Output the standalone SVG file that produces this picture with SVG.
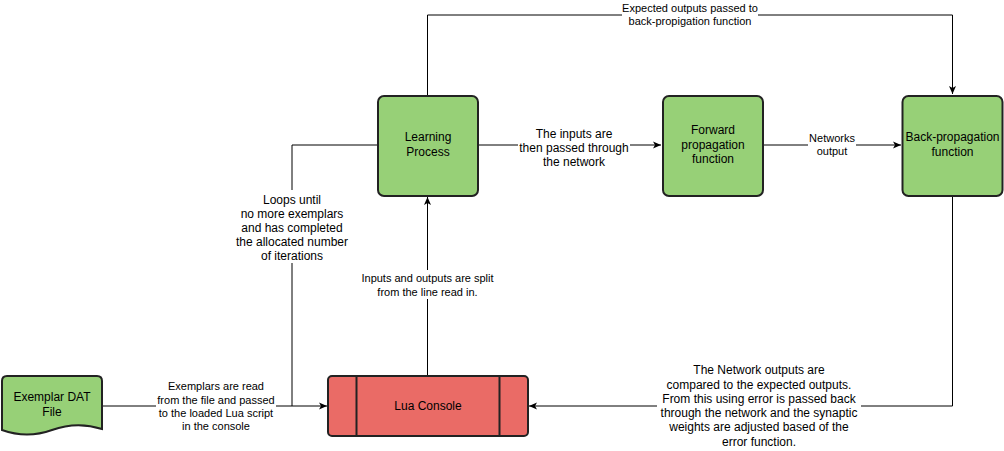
<svg xmlns="http://www.w3.org/2000/svg" width="1004" height="451" viewBox="0 0 1004 451">
  <style>
    .node-g { fill: #97D077; stroke: #222; stroke-width: 2; }
    .node-r { fill: #EA6B66; stroke: #222; stroke-width: 2; }
    .edge { fill: none; stroke: #000; stroke-width: 1; }
    .t12 { font-family: "Liberation Sans", Arial, sans-serif; font-size: 12px; fill: #000; text-anchor: middle; }
    .t11 { font-family: "Liberation Sans", Arial, sans-serif; font-size: 11px; fill: #000; text-anchor: middle; }
    .lbg { fill: #fff; stroke: none; }
  </style>
  <defs>
    <marker id="arrow" viewBox="0 0 8 8" refX="8" refY="4" markerWidth="8" markerHeight="8" markerUnits="userSpaceOnUse" orient="auto">
      <path d="M0,0.5 L8,4 L0,7.5 L2,4 Z" fill="#000"/>
    </marker>
  </defs>
  <rect width="1004" height="451" fill="#fff"/>

  <g id="connectors">
    <g id="e-exemplar-lua">
      <path class="edge" d="M103,406 H327" marker-end="url(#arrow)"/>
      <rect class="lbg" x="156" y="380" width="120" height="53"/>
      <text class="t11" x="216" y="390">Exemplars are read</text>
      <text class="t11" x="216" y="403.5">from the file and passed</text>
      <text class="t11" x="216" y="417">to the loaded Lua script</text>
      <text class="t11" x="216" y="430">in the console</text>
    </g>
    <g id="e-loop">
      <path class="edge" d="M377,145 H292 V406"/>
      <rect class="lbg" x="232" y="190" width="120" height="73"/>
      <text class="t12" x="292" y="203.5">Loops until</text>
      <text class="t12" x="292" y="217.8">no more exemplars</text>
      <text class="t12" x="292" y="232">and has completed</text>
      <text class="t12" x="292" y="246.2">the allocated number</text>
      <text class="t12" x="292" y="260.2">of iterations</text>
    </g>
    <g id="e-lua-learning">
      <path class="edge" d="M427.5,375 V197" marker-end="url(#arrow)"/>
      <rect class="lbg" x="360" y="270" width="135" height="29"/>
      <text class="t11" x="427.5" y="282">Inputs and outputs are split</text>
      <text class="t11" x="427.5" y="295.5">from the line read in.</text>
    </g>
    <g id="e-learning-forward">
      <path class="edge" d="M479,145 H661" marker-end="url(#arrow)"/>
      <rect class="lbg" x="518" y="125" width="112" height="44"/>
      <text class="t12" x="574" y="137.5">The inputs are</text>
      <text class="t12" x="574" y="151.7">then passed through</text>
      <text class="t12" x="574" y="166">the network</text>
    </g>
    <g id="e-forward-back">
      <path class="edge" d="M764,145 H901" marker-end="url(#arrow)"/>
      <rect class="lbg" x="808" y="131" width="48" height="27"/>
      <text class="t11" x="832" y="142">Networks</text>
      <text class="t11" x="832" y="155">output</text>
    </g>
    <g id="e-learning-back">
      <path class="edge" d="M427.5,95 V15 H952.5 V94" marker-end="url(#arrow)"/>
      <rect class="lbg" x="622" y="1" width="136" height="27"/>
      <text class="t11" x="690" y="12">Expected outputs passed to</text>
      <text class="t11" x="690" y="25">back-propigation function</text>
    </g>
    <g id="e-back-lua">
      <path class="edge" d="M952.5,197 V406 H529" marker-end="url(#arrow)"/>
      <rect class="lbg" x="657" y="362" width="204" height="87"/>
      <text class="t12" x="759" y="374.3">The Network outputs are</text>
      <text class="t12" x="759" y="388.5">compared to the expected outputs.</text>
      <text class="t12" x="759" y="402.7">From this using error is passed back</text>
      <text class="t12" x="759" y="417">through the network and the synaptic</text>
      <text class="t12" x="759" y="431.3">weights are adjusted based of the</text>
      <text class="t12" x="759" y="445.5">error function.</text>
    </g>
  </g>

  <g id="learning-process">
    <rect class="node-g" x="378" y="96" width="100" height="100" rx="6"/>
    <text class="t12" x="428" y="141.3">Learning</text>
    <text class="t12" x="428" y="155.5">Process</text>
  </g>
  <g id="forward-propagation">
    <rect class="node-g" x="663" y="96" width="100" height="100" rx="6"/>
    <text class="t12" x="713" y="134.3">Forward</text>
    <text class="t12" x="713" y="148.5">propagation</text>
    <text class="t12" x="713" y="162.7">function</text>
  </g>
  <g id="back-propagation">
    <rect class="node-g" x="902.5" y="96" width="100" height="100" rx="6"/>
    <text class="t12" x="952.5" y="141.3">Back-propagation</text>
    <text class="t12" x="952.5" y="155.5">function</text>
  </g>
  <g id="lua-console">
    <rect class="node-r" x="328" y="376" width="200" height="60" rx="4"/>
    <line x1="356.5" y1="376" x2="356.5" y2="436" stroke="#222" stroke-width="2"/>
    <line x1="499.5" y1="376" x2="499.5" y2="436" stroke="#222" stroke-width="2"/>
    <text class="t12" x="428" y="409.5">Lua Console</text>
  </g>
  <g id="exemplar-dat-file">
    <path class="node-g" d="M2,381 Q2,376 7,376 H97 Q102,376 102,381 V429 Q77,421 52,430 Q27,439 2,430 Z"/>
    <text class="t12" x="52" y="401.3">Exemplar DAT</text>
    <text class="t12" x="52" y="415.5">File</text>
  </g>
</svg>
